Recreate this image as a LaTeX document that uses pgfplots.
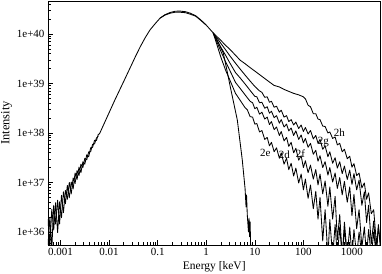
\documentclass[border=0pt]{standalone}
\usepackage{pgfplots}
\pgfplotsset{compat=1.18}
\usepackage{fontspec}
\setmainfont{Liberation Serif}
\begin{document}
\begin{tikzpicture}
\begin{axis}[
  name=ax,
  scale only axis,
  width=332.5pt, height=244pt,
  xmode=log, ymode=log,
  xmin=5.52e-4, xmax=3870,
  ymin=5.46e35, ymax=4.64e40,
  xtick={0.001,0.01,0.1,1,10,100,1000},
  xticklabels={0.001,0.01,0.1,1,10,100,1000},
  ytick={1e36,1e37,1e38,1e39,1e40},
  yticklabels={1e+36,1e+37,1e+38,1e+39,1e+40},
  minor xtick={6e-4,7e-4,8e-4,9e-4,2e-3,3e-3,4e-3,5e-3,6e-3,7e-3,8e-3,9e-3,0.02,0.03,0.04,0.05,0.06,0.07,0.08,0.09,0.2,0.3,0.4,0.5,0.6,0.7,0.8,0.9,2,3,4,5,6,7,8,9,20,30,40,50,60,70,80,90,200,300,400,500,600,700,800,900,2000,3000},
  minor ytick={6e35,7e35,8e35,9e35,2e36,3e36,4e36,5e36,6e36,7e36,8e36,9e36,2e37,3e37,4e37,5e37,6e37,7e37,8e37,9e37,2e38,3e38,4e38,5e38,6e38,7e38,8e38,9e38,2e39,3e39,4e39,5e39,6e39,7e39,8e39,9e39,2e40,3e40,4e40},
  tick align=inside,
  xtick pos=left, ytick pos=left,
  major tick length=5pt, minor tick length=3pt,
  tick style={black, line width=0.6pt},
  axis line style={line width=0.7pt},
  ticklabel style={font=\fontsize{11}{13}\selectfont},
  label style={font=\fontsize{11.5}{13}\selectfont},
  xlabel={Energy [keV]},
  ylabel={Intensity},
  xlabel style={at={(axis description cs:0.5,-0.0881)}, anchor=center},
  ylabel style={at={(axis description cs:-0.1248,0.5)}, anchor=center, font=\fontsize{12.5}{14}\selectfont},
  cycle list={{black, solid, mark=none}},
  no markers,
  every axis plot post/.append style={black, line width=0.85pt, line join=round},
]
% common low-energy part (noisy, two overlapping realisations)
\addplot coordinates {(5.50e-4,1.82e36)(6.03e-4,5.50e35)(6.61e-4,2.88e36)(7.24e-4,1.10e36)(7.94e-4,3.89e36)(8.71e-4,9.77e35)(9.55e-4,4.07e36)(1.047e-3,1.95e36)(1.148e-3,6.46e36)(1.259e-3,3.72e36)(1.380e-3,8.71e36)(1.514e-3,4.90e36)(1.660e-3,1.02e37)(1.820e-3,7.41e36)(1.995e-3,1.55e37)(2.188e-3,1.15e37)(2.399e-3,2.04e37)(2.630e-3,1.58e37)(2.884e-3,2.63e37)(3.162e-3,2.34e37)(3.467e-3,3.63e37)(3.802e-3,3.31e37)(4.169e-3,5.01e37)(4.571e-3,5.13e37)(5.012e-3,7.08e37)(5.495e-3,7.08e37)(6.026e-3,9.55e37)};
\addplot coordinates {(5.50e-4,5.13e35)(6.03e-4,1.95e36)(6.61e-4,4.57e35)(7.24e-4,3.47e36)(7.94e-4,1.45e36)(8.71e-4,4.37e36)(9.55e-4,1.45e36)(1.047e-3,5.50e36)(1.148e-3,2.45e36)(1.259e-3,6.92e36)(1.380e-3,4.57e36)(1.514e-3,1.00e37)(1.660e-3,5.89e36)(1.820e-3,1.23e37)(1.995e-3,9.55e36)(2.188e-3,1.74e37)(2.399e-3,1.38e37)(2.630e-3,2.34e37)(2.884e-3,2.00e37)(3.162e-3,3.09e37)(3.467e-3,2.88e37)(3.802e-3,4.17e37)(4.169e-3,4.17e37)(4.571e-3,5.89e37)(5.012e-3,6.03e37)(5.495e-3,7.94e37)(6.026e-3,8.71e37)};
% common peak
\addplot coordinates {(6.026e-3,9.12e37)(6.46e-3,1.0e38)(0.01,2.57e38)(0.0132,4.68e38)(0.02,1.10e39)(0.0269,2.04e39)(0.0347,3.47e39)(0.0437,5.50e39)(0.055,8.32e39)(0.0692,1.20e40)(0.0891,1.62e40)(0.112,2.09e40)(0.141,2.40e40)(0.182,2.63e40)(0.229,2.75e40)(0.288,2.75e40)(0.372,2.69e40)(0.468,2.51e40)(0.603,2.29e40)(0.759,1.91e40)(1.0,1.51e40)(1.39,1.05e40)};
\addplot coordinates {(0.112,2.09e40)(0.141,2.45e40)(0.182,2.72e40)(0.229,2.88e40)(0.288,2.90e40)(0.372,2.82e40)(0.468,2.63e40)(0.603,2.34e40)(0.759,1.95e40)(1.0,1.51e40)};
% thermal only
\addplot coordinates {(1.39,1.05e40)(1.7,7.2e39)(2.24,4.13e39)(2.7,1.74e39)(3.13,8.49e38)(4.36,1.83e38)(5.52,2.85e37)(6.3,7.5e36)(6.6,3.2e36)(6.75,5.6e36)(7.0,2.2e36)(7.4,1.0e36)(7.6,1.9e36)(7.8,8e35)(8.0,1.6e36)(8.3,3e35)};
% 2h
\addplot coordinates {(1.39,1.05e40)(1.5,9.77e39)(2,7.41e39)(2.5,5.89e39)(3,5.01e39)(4,3.72e39)(5,2.95e39)(6.3,2.51e39)(8,2.09e39)(10,1.78e39)(12.5,1.51e39)(16,1.26e39)(20,1.07e39)(25,9.12e38)(32,8.51e38)(40,7.59e38)(50,6.92e38)(63,6.31e38)(80,5.89e38)(100,5.37e38)(110,4.90e38)(125,3.63e38)(140,3.39e38)(160,2.45e38)(180,2.45e38)(200,1.91e38)(220,1.86e38)(250,1.38e38)(280,1.35e38)(320,1.00e38)(350,1.05e38)(400,7.76e37)(450,8.32e37)(500,5.75e37)(560,6.17e37)(630,4.17e37)(700,4.68e37)(800,3.02e37)(900,3.39e37)(1000,2.04e37)(1100,2.40e37)(1250,1.38e37)(1400,1.55e37)(1600,7.76e36)(1800,9.77e36)(2000,4.57e36)(2200,6.17e36)(2500,2.34e36)(2800,2.82e36)(3200,5.62e35)(3500,1.26e36)(4000,4.0e35)};
% 2g
\addplot coordinates {(1.39,1.05e40)(1.5,9.55e39)(2,6.46e39)(2.5,4.79e39)(3,3.72e39)(4,2.57e39)(5,1.95e39)(6.3,1.48e39)(8,1.12e39)(10,8.71e38)(12.5,7.08e38)(14,6.61e38)(16,5.25e38)(18,5.37e38)(20,4.17e38)(22,4.37e38)(25,3.31e38)(28,3.47e38)(32,2.63e38)(35,2.88e38)(40,2.09e38)(45,2.24e38)(50,1.70e38)(56,1.86e38)(63,1.45e38)(70,1.66e38)(80,1.23e38)(90,1.45e38)(100,1.07e38)(110,1.29e38)(125,9.55e37)(140,1.12e38)(160,7.59e37)(180,8.91e37)(200,6.17e37)(220,7.41e37)(250,4.68e37)(280,5.50e37)(320,3.31e37)(350,4.17e37)(400,2.45e37)(450,3.16e37)(500,1.95e37)(560,2.63e37)(630,1.51e37)(700,2.14e37)(800,1.15e37)(900,1.78e37)(1000,9.12e36)(1100,1.51e37)(1250,7.08e36)(1400,1.12e37)(1600,3.47e36)(1800,6.46e36)(2000,1.55e36)(2200,3.47e36)(2500,5.75e35)(2800,1.66e36)(3200,3.16e35)(3500,1.41e36)(4000,3.16e35)};
% 2f
\addplot coordinates {(1.39,1.05e40)(1.5,9.12e39)(2,5.37e39)(2.5,3.72e39)(3,2.69e39)(4,1.66e39)(5,1.29e39)(6.3,9.77e38)(8,7.24e38)(10,5.50e38)(11,5.37e38)(12.5,4.07e38)(14,4.17e38)(16,3.16e38)(18,3.39e38)(20,2.51e38)(22,2.75e38)(25,2.04e38)(28,2.24e38)(32,1.58e38)(35,1.86e38)(40,1.32e38)(45,1.51e38)(50,1.10e38)(56,1.26e38)(63,8.91e37)(70,1.10e38)(80,7.41e37)(90,9.12e37)(100,6.31e37)(110,7.76e37)(125,5.13e37)(140,6.17e37)(160,3.72e37)(180,4.47e37)(200,2.69e37)(220,3.47e37)(250,2.00e37)(280,2.63e37)(320,1.41e37)(350,2.00e37)(400,1.02e37)(450,1.55e37)(500,7.59e36)(560,1.26e37)(630,5.62e36)(700,1.05e37)(800,3.98e36)(900,8.13e36)(1000,2.14e36)(1100,5.75e36)(1250,1.17e36)(1400,2.82e36)(1600,4.90e35)(1800,1.26e36)(2000,3.16e35)(2200,1.12e36)(2500,3.16e35)(2800,1.0e36)(3200,3.16e35)};
% 2d
\addplot coordinates {(1.39,1.05e40)(1.5,8.71e39)(2,4.47e39)(2.5,2.75e39)(3,1.91e39)(4,1.05e39)(5,7.94e38)(6.3,5.89e38)(8,4.37e38)(9,4.07e38)(10,3.09e38)(11,3.31e38)(12.5,2.40e38)(14,2.63e38)(16,1.91e38)(18,2.09e38)(20,1.48e38)(22,1.70e38)(25,1.17e38)(28,1.32e38)(32,8.91e37)(35,1.07e38)(40,6.92e37)(45,8.13e37)(50,5.37e37)(56,6.46e37)(63,3.98e37)(70,4.90e37)(80,2.82e37)(90,3.47e37)(100,2.00e37)(110,2.75e37)(125,1.58e37)(140,2.24e37)(160,1.17e37)(180,1.82e37)(200,8.91e36)(220,1.48e37)(250,5.89e36)(280,1.07e37)(320,3.31e36)(350,8.13e36)(400,1.82e36)(450,5.25e36)(500,6.92e35)(560,2.24e36)(630,3.16e35)(700,1.58e36)(800,3.16e35)(900,1.26e36)(1000,3.16e35)(1100,1.12e36)(1250,3.16e35)(1400,1.0e36)(1600,3.16e35)};
% 2e
\addplot coordinates {(1.39,1.05e40)(1.5,8.32e39)(2,3.39e39)(2.5,1.86e39)(3,1.23e39)(4,6.31e38)(5,4.57e38)(6.3,3.24e38)(7,2.95e38)(8,2.14e38)(9,2.09e38)(10,1.51e38)(11,1.55e38)(12.5,1.05e38)(14,1.12e38)(16,7.41e37)(18,8.13e37)(20,5.50e37)(22,6.46e37)(25,4.17e37)(28,5.01e37)(32,3.09e37)(35,3.98e37)(40,2.34e37)(45,3.09e37)(50,1.82e37)(56,2.45e37)(63,1.35e37)(70,1.95e37)(80,9.77e36)(90,1.48e37)(100,7.08e36)(110,1.17e37)(125,4.79e36)(140,8.91e36)(160,2.95e36)(180,6.61e36)(200,1.82e36)(220,5.01e36)(250,6.61e35)(280,2.82e36)(320,3.16e35)(350,1.78e36)(400,3.16e35)(450,1.41e36)(500,3.16e35)(560,1.26e36)(630,3.16e35)(700,1.12e36)(800,3.16e35)};
\node[font=\fontsize{11}{13}\selectfont] at (axis cs:552,1e38) {2h};
\node[font=\fontsize{11}{13}\selectfont] at (axis cs:258,6.58e37) {2g};
\node[font=\fontsize{11}{13}\selectfont] at (axis cs:86.7,3.77e37) {2f};
\node[font=\fontsize{11}{13}\selectfont] at (axis cs:40.6,3.6e37) {2d};
\node[font=\fontsize{11}{13}\selectfont] at (axis cs:16.5,3.94e37) {2e};
\end{axis}
\pgfresetboundingbox
\path[use as bounding box] ([shift={(-48pt,-28pt)}]ax.south west) rectangle ([shift={(1.5pt,1pt)}]ax.north east);
\end{tikzpicture}
\end{document}
